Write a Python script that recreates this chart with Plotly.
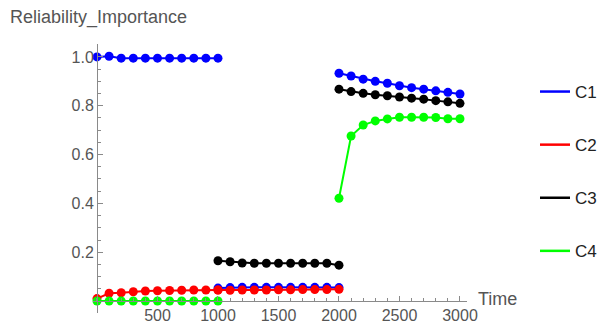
import plotly.graph_objects as go

# ---- data ----
time_seg1 = [0, 100, 200, 300, 400, 500, 600, 700, 800, 900, 1000]
time_seg2 = [1000, 1100, 1200, 1300, 1400, 1500, 1600, 1700, 1800, 1900, 2000]
time_seg3 = [2000, 2100, 2200, 2300, 2400, 2500, 2600, 2700, 2800, 2900, 3000]

c1_seg1 = [1.0, 1.003, 0.995, 0.995, 0.995, 0.995, 0.995, 0.995, 0.995, 0.995, 0.995]
c1_seg2 = [0.053, 0.055, 0.056, 0.056, 0.056, 0.056, 0.056, 0.056, 0.056, 0.056, 0.055]
c1_seg3 = [0.933, 0.922, 0.909, 0.900, 0.892, 0.882, 0.874, 0.868, 0.861, 0.855, 0.848]

c2_seg1 = [0.010, 0.032, 0.034, 0.038, 0.041, 0.042, 0.043, 0.044, 0.045, 0.045, 0.045]
c2_seg2 = [0.045, 0.044, 0.045, 0.045, 0.045, 0.046, 0.046, 0.047, 0.047, 0.047, 0.048]

c3_seg2 = [0.165, 0.161, 0.156, 0.155, 0.155, 0.155, 0.155, 0.155, 0.155, 0.155, 0.147]
c3_seg3 = [0.868, 0.858, 0.851, 0.845, 0.841, 0.836, 0.831, 0.827, 0.821, 0.816, 0.810]

c4_seg1 = [0.0, 0.0, 0.0, 0.0, 0.0, 0.0, 0.0, 0.0, 0.0, 0.0, 0.0]
c4_seg3 = [0.421, 0.676, 0.721, 0.738, 0.746, 0.753, 0.753, 0.753, 0.752, 0.747, 0.747]

series_names = ["C1", "C2", "C3", "C4"]
series_colors = ["#0000ff", "#ff0000", "#000000", "#00ff00"]
series_segments = [
    [(time_seg1, c1_seg1), (time_seg2, c1_seg2), (time_seg3, c1_seg3)],
    [(time_seg1, c2_seg1), (time_seg2, c2_seg2)],
    [(time_seg2, c3_seg2), (time_seg3, c3_seg3)],
    [(time_seg1, c4_seg1), (time_seg3, c4_seg3)],
]

x_ticks = [500, 1000, 1500, 2000, 2500, 3000]
y_ticks = [0.2, 0.4, 0.6, 0.8, 1.0]

# ---- figure ----
fig = go.Figure()
for name, color, segs in zip(series_names, series_colors, series_segments):
    xs, ys = [], []
    for t, v in segs:
        if xs:
            xs.append(None)
            ys.append(None)
        xs.extend(t)
        ys.extend(v)
    fig.add_trace(go.Scatter(
        x=xs, y=ys, mode="lines+markers", name=name, showlegend=False,
        line=dict(color=color, width=2),
        marker=dict(color=color, size=9),
        cliponaxis=False,
    ))

for i, (name, color) in enumerate(zip(series_names, series_colors)):
    fig.add_trace(go.Scatter(
        x=[None], y=[None], mode="lines", name=name, legendgroup=f"g{i}",
        line=dict(color=color, width=2.5), showlegend=True,
    ))

axis_gray = "#8a8a8a"
label_gray = "#555555"
font_family = "Liberation Sans, Arial, sans-serif"

fig.update_layout(
    width=600, height=325,
    margin=dict(l=93, r=133, t=44, b=12, autoexpand=False),
    paper_bgcolor="white", plot_bgcolor="white",
    font=dict(family=font_family, color=label_gray, size=16),
    xaxis=dict(
        range=[-33, 3058], showgrid=False, zeroline=False, automargin=False,
        showline=True, linecolor=axis_gray, linewidth=1,
        anchor="free", position=0.0446,
        tickmode="array", tickvals=x_ticks,
        ticks="inside", ticklen=5, tickcolor=axis_gray,
        tickfont=dict(size=16, color=label_gray),
        minor=dict(dtick=100, tick0=0, ticks="inside", ticklen=3, tickcolor=axis_gray),
    ),
    yaxis=dict(
        range=[-0.049, 1.053], showgrid=False, zeroline=False, automargin=False,
        showline=True, linecolor=axis_gray, linewidth=1,
        anchor="free", position=0.0107,
        tickmode="array", tickvals=y_ticks, ticktext=["0.2", "0.4", "0.6", "0.8", "1.0"],
        ticks="inside", ticklen=5, tickcolor=axis_gray,
        tickfont=dict(size=16, color=label_gray),
        minor=dict(dtick=0.05, tick0=0, ticks="inside", ticklen=3, tickcolor=axis_gray),
    ),
    legend=dict(
        xref="container", yref="container", x=535 / 600, y=1 - 74 / 325,
        xanchor="left", yanchor="top", maxheight=300,
        font=dict(size=17, color="#222222", family=font_family),
        tracegroupgap=28, bgcolor="rgba(0,0,0,0)",
    ),
    annotations=[
        dict(text="Reliability_Importance", xref="paper", yref="paper",
             x=(8 - 93) / 374, y=(313 - 18) / 269, xanchor="left", yanchor="middle",
             showarrow=False, font=dict(size=18, color=label_gray, family=font_family)),
        dict(text="Time", xref="paper", yref="paper",
             x=(476 - 93) / 374, y=(313 - 299) / 269, xanchor="left", yanchor="middle",
             showarrow=False, font=dict(size=18, color=label_gray, family=font_family)),
    ],
)

fig.write_html("out.html")
